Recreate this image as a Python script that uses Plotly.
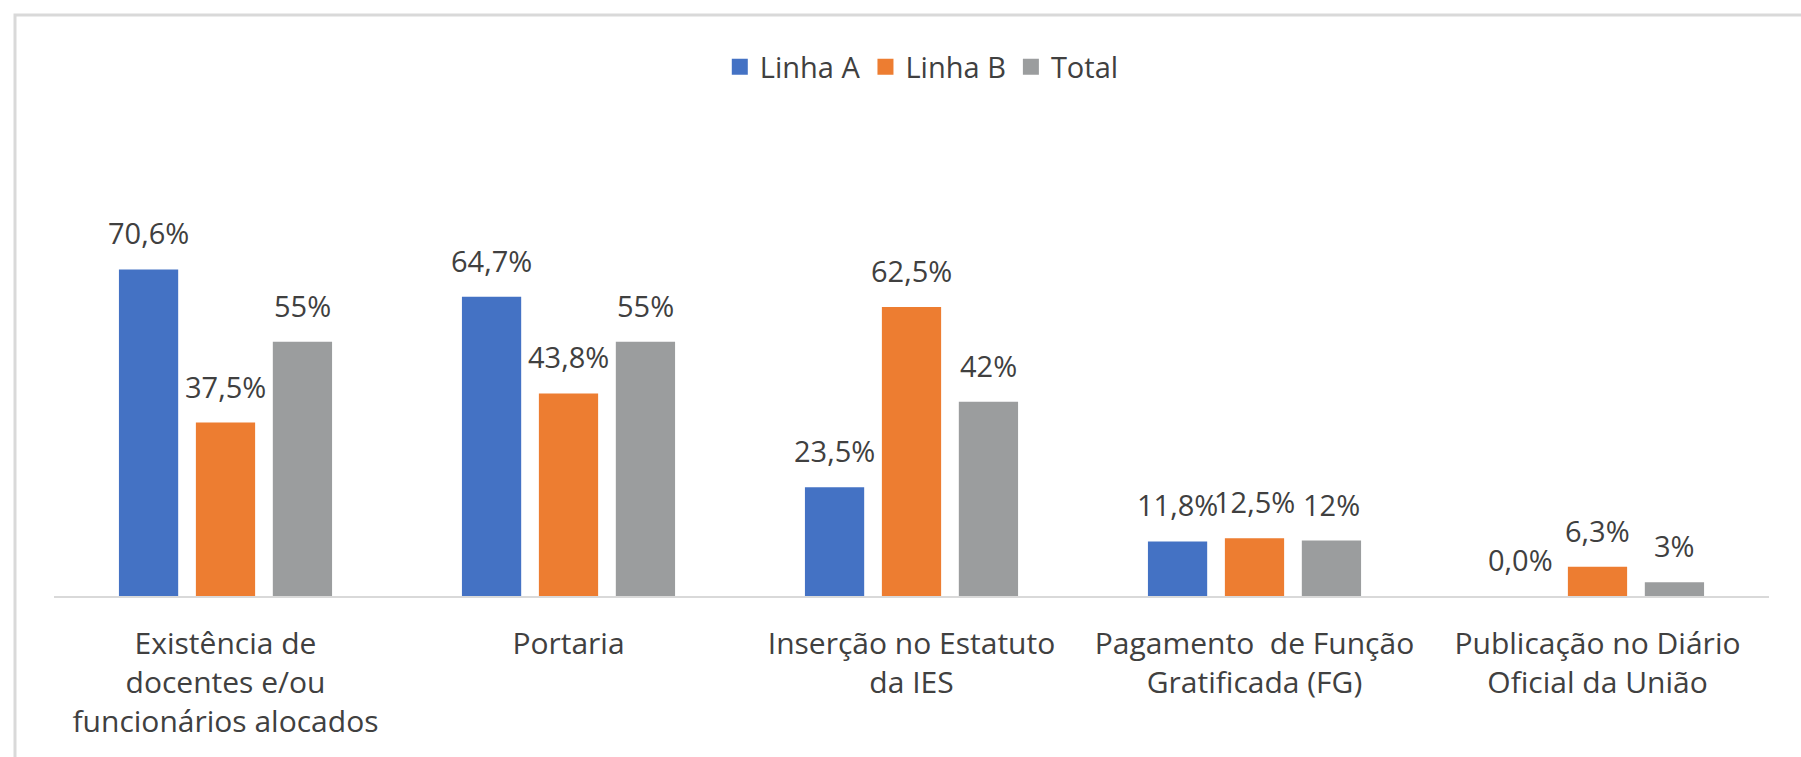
import plotly.graph_objects as go

categories = [
    "Existência de<br>docentes e/ou<br>funcionários alocados",
    "Portaria",
    "Inserção no Estatuto<br>da IES",
    "Pagamento  de Função<br>Gratificada (FG)",
    "Publicação no Diário<br>Oficial da União",
]
linha_a = [70.6, 64.7, 23.5, 11.8, 0.0]
linha_b = [37.5, 43.8, 62.5, 12.5, 6.3]
total = [55, 55, 42, 12, 3]

series_names = ["Linha A", "Linha B", "Total"]
series_values = [linha_a, linha_b, total]
series_decimals = [1, 1, 0]
series_colors = ["#4472C4", "#ED7D31", "#9B9D9E"]

FONT = "Open Sans"
TEXT_COLOR = "#404040"

W, H = 1801, 757
ML, MR, MT, MB = 54, 32, 226, 161
PLOT_W = W - ML - MR
PLOT_H = H - MT - MB
Y_MAX = 80

fig = go.Figure()
for name, vals, col in zip(series_names, series_values, series_colors):
    fig.add_trace(go.Bar(name=name, x=categories, y=vals, marker_color=col,
                         marker_line_width=0, showlegend=False,
                         legendgroup=name))
# legend entries with larger square swatches
for name, col in zip(series_names, series_colors):
    fig.add_trace(go.Scatter(name=name, x=[None], y=[None], mode="markers",
                             marker=dict(symbol="square", size=22, color=col),
                             legendgroup=name, showlegend=True))

# data labels
cat_w = PLOT_W / len(categories)
bargap = 0.327
slot = cat_w * (1 - bargap) / 3
for i, (vals, dec) in enumerate(zip(series_values, series_decimals)):
    for c, v in zip(categories, vals):
        txt = (f"{v:.{dec}f}".replace(".", ",")) + "%"
        fig.add_annotation(x=c, y=v, xref="x", yref="y", text=txt,
                           showarrow=False, yanchor="bottom",
                           xshift=(i - 1) * slot, yshift=15,
                           font=dict(family=FONT, size=29, color=TEXT_COLOR))

# outer border (top and left visible)
fig.add_shape(type="rect", xref="paper", yref="paper",
              x0=(15 - ML) / PLOT_W, x1=(W + 20 - ML) / PLOT_W,
              y0=-(MB + 20) / PLOT_H, y1=(H - MB - 15) / PLOT_H,
              line=dict(color="#D9D9D9", width=3), fillcolor="rgba(0,0,0,0)",
              layer="below")

fig.update_layout(
    width=W, height=H,
    margin=dict(l=ML, r=MR, t=MT, b=MB),
    paper_bgcolor="white", plot_bgcolor="white",
    barmode="group", bargap=bargap, bargroupgap=0.23,
    font=dict(family=FONT, size=29, color=TEXT_COLOR),
    legend=dict(orientation="h", x=0.506, xanchor="center",
                y=(H - MB - 67) / PLOT_H, yanchor="middle",
                font=dict(family=FONT, size=29, color=TEXT_COLOR),
                itemwidth=30, traceorder="normal", itemsizing="trace"),
    showlegend=True,
)
fig.update_xaxes(showline=True, linecolor="#D9D9D9", linewidth=2,
                 showgrid=False, ticks="", ticklabelstandoff=20,
                 tickfont=dict(family=FONT, size=30, color=TEXT_COLOR))
fig.update_yaxes(range=[0, Y_MAX], visible=False, showgrid=False, zeroline=False)

fig.write_html("out.html", config={"displayModeBar": False},
               post_script="document.body.style.margin='0';document.body.style.overflow='hidden';")
